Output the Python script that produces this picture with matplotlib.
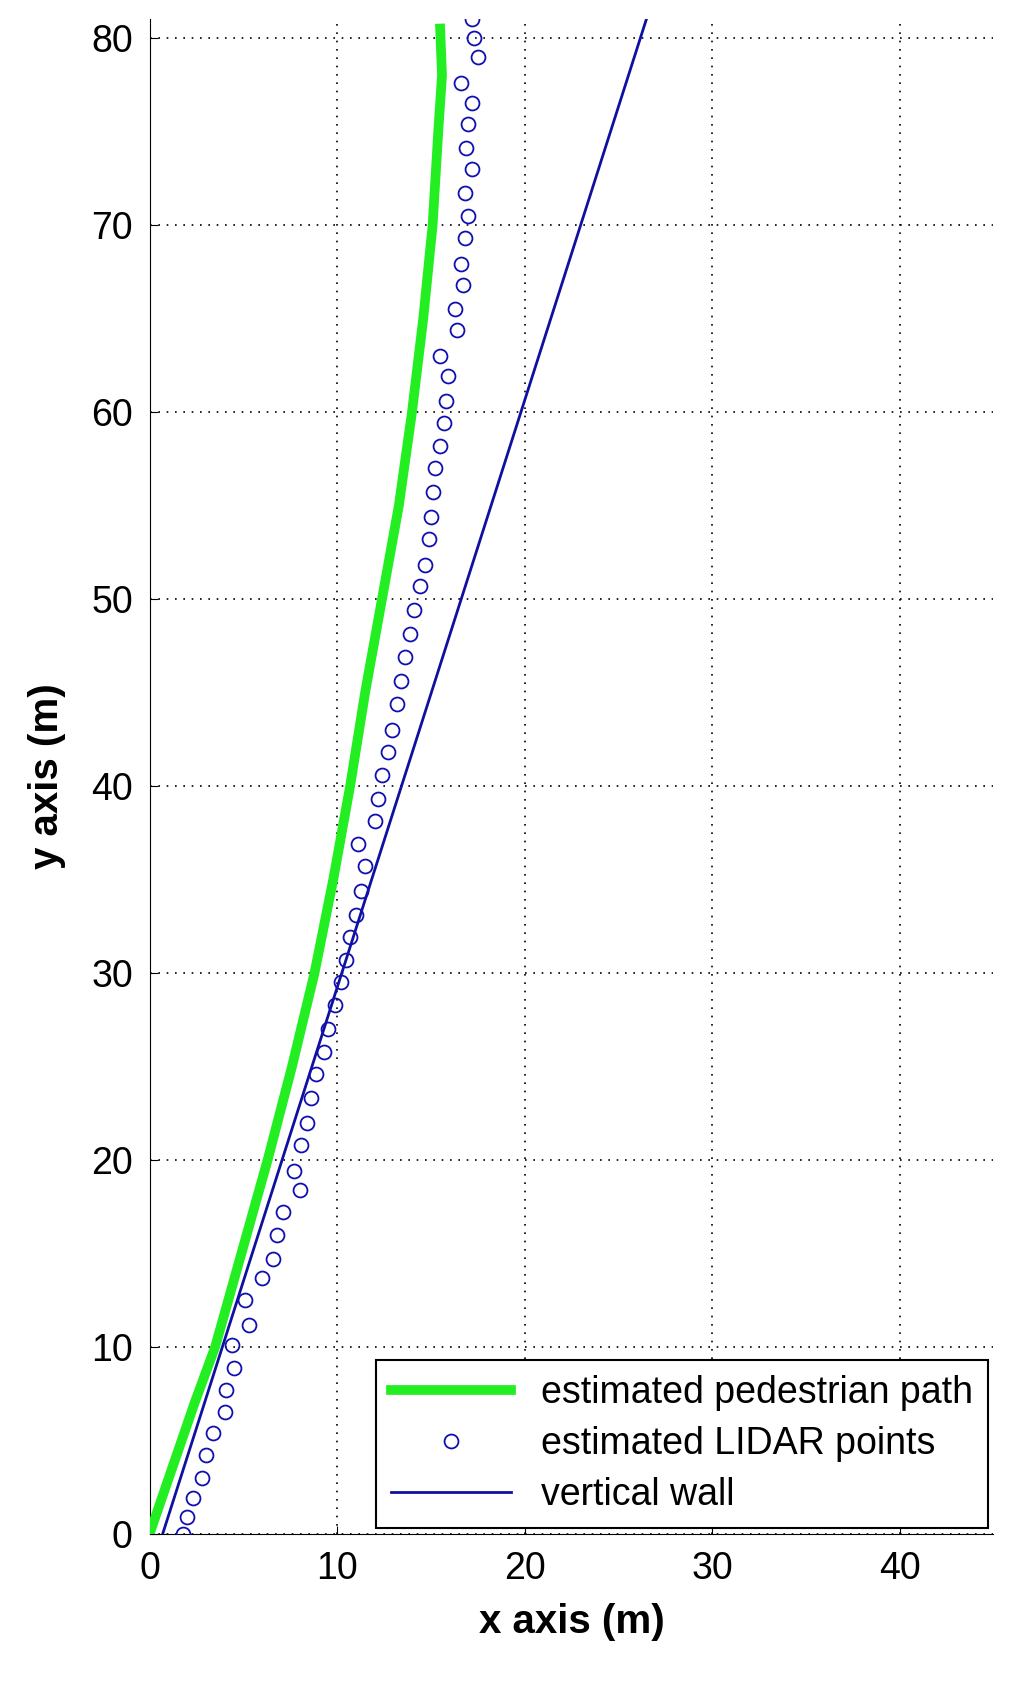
import matplotlib
matplotlib.use("Agg")
import matplotlib.pyplot as plt

plt.rcParams['font.family'] = ['Liberation Sans', 'DejaVu Sans']

path_x = [0.0, 1.2, 2.4, 3.5, 4.9, 6.3, 7.6, 8.8, 9.8, 10.7, 11.5, 12.4, 13.3, 14.0, 14.6, 15.1, 15.4, 15.6, 15.5]
path_y = [0.0, 3.5, 7.0, 10.0, 15.0, 20.0, 25.0, 30.0, 35.0, 40.0, 45.0, 50.0, 55.0, 60.0, 65.0, 70.0, 75.0, 78.0, 80.5]

lidar_x = [1.8, 2.0, 2.3, 2.8, 3.0, 3.4, 4.0, 4.1, 4.5, 4.4, 5.3, 5.1, 6.0, 6.6, 6.8, 7.1, 8.0, 7.7,
           8.1, 8.4, 8.6, 8.9, 9.3, 9.5, 9.9, 10.2, 10.5, 10.7, 11.0, 11.3, 11.5, 11.1, 12.0, 12.2,
           12.4, 12.7, 12.95, 13.2, 13.4, 13.6, 13.9, 14.1, 14.4, 14.7, 14.9, 15.0, 15.1, 15.2, 15.5,
           15.7, 15.8, 15.9, 15.5, 16.4, 16.3, 16.7, 16.6, 16.8, 17.0, 16.8, 17.2, 16.9, 17.0, 17.2,
           16.6, 17.5, 17.3, 17.2]
lidar_y = [0.0, 0.9, 1.9, 3.0, 4.2, 5.4, 6.5, 7.7, 8.9, 10.1, 11.2, 12.5, 13.7, 14.7, 16.0, 17.2, 18.4, 19.4,
           20.8, 22.0, 23.3, 24.6, 25.8, 27.0, 28.3, 29.5, 30.7, 31.9, 33.1, 34.4, 35.7, 36.9, 38.1, 39.3,
           40.6, 41.8, 43.0, 44.4, 45.6, 46.9, 48.1, 49.4, 50.7, 51.8, 53.2, 54.4, 55.7, 57.0, 58.2,
           59.4, 60.6, 61.9, 63.0, 64.4, 65.5, 66.8, 67.9, 69.3, 70.5, 71.7, 73.0, 74.1, 75.4, 76.5,
           77.6, 79.0, 80.0, 81.0]

wall_x = [0.7, 26.5]
wall_y = [0.0, 81.0]

fig = plt.figure(figsize=(10.24, 16.85), dpi=100)
ax = fig.add_axes([0.146, 0.0896, 0.824, 0.899])
ax.plot(path_x, path_y, color='#22ee22', lw=7, label='estimated pedestrian path', zorder=3,
        solid_joinstyle='round')
ax.plot(lidar_x, lidar_y, 'o', mfc='none', mec='#1010b0', ms=10, mew=1.3, label='estimated LIDAR points', zorder=4)
ax.plot(wall_x, wall_y, color='#1010a0', lw=2, label='vertical wall', zorder=2)
ax.set_xlim(0, 45)
ax.set_ylim(0, 81)
ax.set_xticks([0, 10, 20, 30, 40])
ax.set_yticks([0, 10, 20, 30, 40, 50, 60, 70, 80])
ax.grid(True, color='black', linestyle=(0, (1, 4)), lw=1.2)
ax.spines['top'].set_visible(False)
ax.spines['right'].set_visible(False)
ax.tick_params(labelsize=27, direction='in', length=6, pad=12, top=False, right=False)
ax.set_xlabel('x axis (m)', fontsize=29, fontweight='bold', labelpad=12)
ax.set_ylabel('y axis (m)', fontsize=29, fontweight='bold', labelpad=18)
leg = ax.legend(loc='lower right', fontsize=27, fancybox=False, framealpha=1, edgecolor='black',
                handlelength=3.2, borderaxespad=0.15, labelspacing=0.4)
leg.get_frame().set_linewidth(1.5)
fig.savefig('out.png', dpi=100, facecolor='white')
